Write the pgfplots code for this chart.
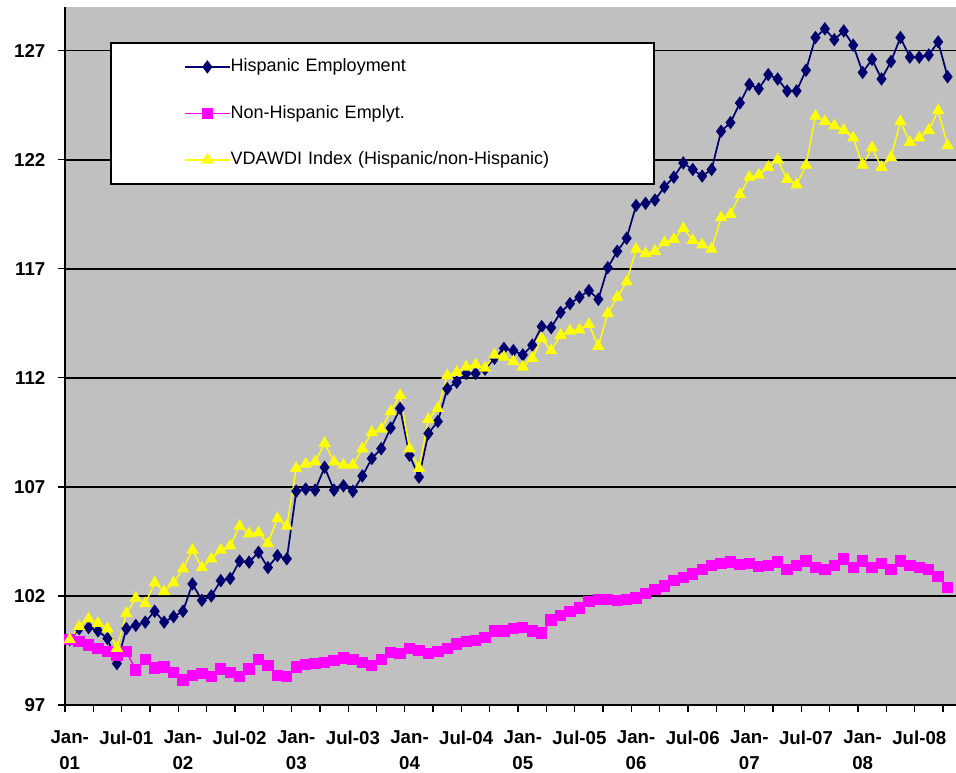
\documentclass[border=0pt]{standalone}
\usepackage{fontspec}
\setmainfont{Liberation Sans}
\usepackage{pgfplots}
\pgfplotsset{compat=1.18}
\usepackage{pgfplotstable}
\definecolor{hisp}{RGB}{0,0,110}
\definecolor{nonhisp}{RGB}{255,0,255}
\definecolor{vdawdi}{RGB}{255,255,0}
\definecolor{bg}{RGB}{192,192,192}

\pgfplotstableread{
m hisp nonhisp vdawdi
0 100.0 100.0 100.0
1 100.5 99.9 100.6
2 100.55 99.75 100.95
3 100.4 99.6 100.75
4 100.05 99.45 100.5
5 98.9 99.3 99.6
6 100.5 99.45 101.2
7 100.65 98.6 101.9
8 100.8 99.1 101.65
9 101.3 98.7 102.6
10 100.8 98.75 102.2
11 101.05 98.5 102.6
12 101.3 98.15 103.25
13 102.55 98.35 104.1
14 101.8 98.45 103.3
15 102.0 98.3 103.7
16 102.7 98.65 104.1
17 102.8 98.5 104.3
18 103.6 98.3 105.2
19 103.55 98.65 104.85
20 104.0 99.1 104.9
21 103.3 98.8 104.4
22 103.85 98.35 105.55
23 103.7 98.3 105.2
24 106.8 98.75 107.85
25 106.9 98.85 108.05
26 106.85 98.9 108.15
27 107.9 98.95 109.0
28 106.85 99.05 108.15
29 107.05 99.15 108.0
30 106.8 99.1 108.0
31 107.5 98.95 108.75
32 108.3 98.8 109.5
33 108.75 99.1 109.65
34 109.7 99.4 110.45
35 110.6 99.35 111.2
36 108.45 99.6 108.75
37 107.45 99.5 107.85
38 109.45 99.35 110.1
39 110.0 99.45 110.6
40 111.5 99.6 112.1
41 111.8 99.8 112.25
42 112.2 99.9 112.5
43 112.2 99.95 112.6
44 112.4 100.1 112.45
45 112.9 100.4 113.05
46 113.35 100.4 112.95
47 113.25 100.5 112.75
48 113.05 100.55 112.5
49 113.5 100.4 112.9
50 114.35 100.3 113.8
51 114.3 100.9 113.25
52 115.0 101.1 113.95
53 115.4 101.3 114.15
54 115.7 101.45 114.2
55 116.0 101.75 114.45
56 115.6 101.85 113.45
57 117.05 101.85 114.95
58 117.8 101.8 115.7
59 118.4 101.85 116.4
60 119.9 101.9 117.9
61 120.0 102.1 117.7
62 120.15 102.3 117.8
63 120.75 102.45 118.2
64 121.2 102.7 118.35
65 121.85 102.85 118.85
66 121.55 103.0 118.3
67 121.25 103.2 118.1
68 121.55 103.4 117.9
69 123.3 103.5 119.35
70 123.7 103.55 119.5
71 124.6 103.45 120.4
72 125.45 103.5 121.2
73 125.25 103.35 121.3
74 125.9 103.4 121.65
75 125.7 103.55 122.0
76 125.15 103.2 121.1
77 125.15 103.4 120.85
78 126.1 103.6 121.75
79 127.6 103.3 124.0
80 128.0 103.2 123.75
81 127.5 103.4 123.55
82 127.9 103.7 123.35
83 127.25 103.3 123.0
84 126.0 103.6 121.75
85 126.6 103.3 122.55
86 125.7 103.5 121.65
87 126.5 103.2 122.1
88 127.6 103.6 123.75
89 126.7 103.4 122.8
90 126.7 103.3 123.0
91 126.8 103.2 123.35
92 127.4 102.9 124.25
93 125.8 102.4 122.65
}\datatable

\begin{document}
\begin{tikzpicture}
\begin{axis}[
  name=ax,
  scale only axis,
  width=668.25pt, height=523.5pt,
  xmin=-0.5, xmax=93.89, ymin=97, ymax=129,
  axis lines*=left,
  axis line style={line width=1.5pt, black},
  axis background/.style={fill=bg},
  ytick={97,102,...,127},
  xtick={-0.5,2.5,...,92.5}, xticklabels={},
  extra x ticks={0,6,...,90},
  extra x tick labels={{Jan-\\01},{Jul-01},{Jan-\\02},{Jul-02},{Jan-\\03},{Jul-03},{Jan-\\04},{Jul-04},{Jan-\\05},{Jul-05},{Jan-\\06},{Jul-06},{Jan-\\07},{Jul-07},{Jan-\\08},{Jul-08}},
  extra x tick style={major tick length=0pt, grid=none},
  tick align=outside, major tick length=5.25pt,
  tick style={black, line width=1pt},
  ymajorgrids, major grid style={black, line width=1.3pt},
  ticklabel style={font=\fontsize{14}{19.5}\selectfont\bfseries},
  /pgf/number format/assume math mode=true,
  yticklabel style={xshift=-6pt},
  xticklabel style={align=center, yshift=-16pt},
  legend cell align=left,
  legend image code/.code={\draw[mark repeat=2, mark phase=2] plot coordinates {(0pt,0pt) (16.875pt,0pt) (33.75pt,0pt)};},
  legend style={at={(0.0505,0.95)}, anchor=north west, draw=black, line width=1.5pt, fill=white,
    inner xsep=54.75pt, inner ysep=11.5pt, row sep=21.9pt,
    font=\fontsize{13.5}{16}\selectfont,
    nodes={inner sep=0pt, text height=10pt, text depth=3pt, text width=262.5pt, align=left}},
]
\addplot[color=hisp, line width=1.3pt, mark=diamond*, mark size=4pt] table[x=m, y=hisp] {\datatable};
\addlegendentry{Hispanic Employment}
\addplot[color=nonhisp, line width=1.1pt, mark=square*, mark size=3.7pt] table[x=m, y=nonhisp] {\datatable};
\addlegendentry{Non-Hispanic Emplyt.}
\addplot[color=vdawdi, line width=1.1pt, mark=triangle*, mark size=4.3pt] table[x=m, y=vdawdi] {\datatable};
\addlegendentry{VDAWDI Index (Hispanic/non-Hispanic)}
\end{axis}
\pgfresetboundingbox
\path[use as bounding box] ([xshift=-48.75pt,yshift=-50.25pt]ax.south west) rectangle ([xshift=668.25pt,yshift=528.75pt]ax.south west);
\end{tikzpicture}
\end{document}
